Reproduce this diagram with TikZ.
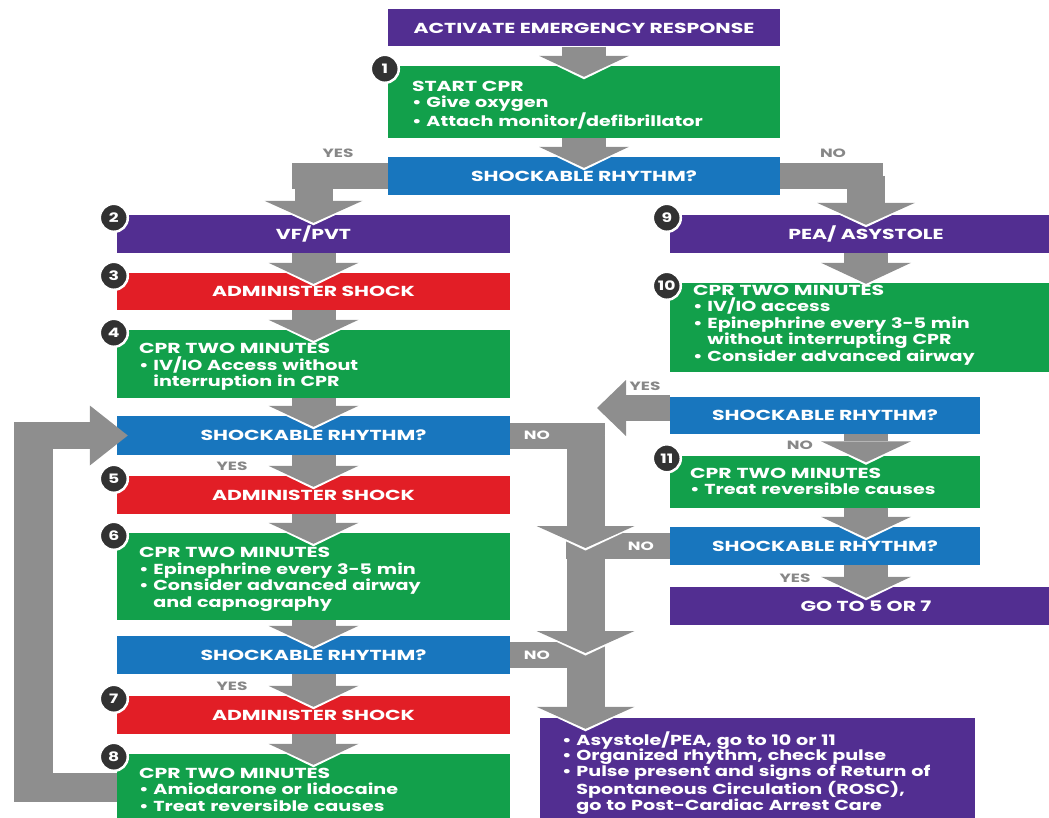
\documentclass[tikz,border=0pt]{standalone}
\usepackage{fontspec}
\setmainfont{Poppins}[FakeStretch=1.32]
\newfontfamily\capsfont{Poppins}[FakeStretch=1.41]
\usetikzlibrary{arrows.meta}

\definecolor{cprpurple}{RGB}{82,46,145}
\definecolor{cprgreen}{RGB}{18,160,75}
\definecolor{cprblue}{RGB}{24,118,190}
\definecolor{cprred}{RGB}{226,30,38}
\definecolor{arrowgray}{RGB}{142,142,142}
\definecolor{labelgray}{RGB}{135,135,135}
\definecolor{badgegray}{RGB}{50,50,50}

\newcommand{\itm}{\textbullet\ }
\newcommand{\hang}{\hphantom{\textbullet\ }}
\newcommand{\head}[1]{{\capsfont #1}}
\newcommand{\tp}{\rule{0pt}{16pt}}% pushes a list a little down

\begin{document}
\begin{tikzpicture}[x=1pt,y=-1pt,
		box/.style={
			rectangle,
			inner sep=0pt,
			text=white,
			font=\bfseries\fontsize{14.5}{16.5}\selectfont,
		},
		capsbox/.style={box, align=center, font=\capsfont\bfseries\fontsize{14.5}{16.5}\selectfont},
		purplebox/.style={capsbox, fill=cprpurple},
		redbox/.style={capsbox, fill=cprred},
		bluebox/.style={capsbox, fill=cprblue},
		greenbox/.style={box, fill=cprgreen, align=left},
		badge/.style={
			circle,
			fill=badgegray,
			draw=white,
			line width=2.5pt,
			minimum size=28pt,
			inner sep=0pt,
			text=white,
			font=\bfseries\fontsize{13}{13}\selectfont,
		},
		lab/.style={text=labelgray, font=\capsfont\bfseries\fontsize{12}{12}\selectfont},
		barlab/.style={text=white, font=\capsfont\bfseries\fontsize{12}{12}\selectfont},
		hbar/.style={draw=arrowgray, line width=26pt},
		vbar/.style={draw=arrowgray, line width=39pt},
		flow/.style={% straight block arrows
			draw=arrowgray,
			line width=44pt,
			shorten >=#1,
			-{Triangle[width=90pt,length=21pt,line width=0pt]},
			preaction={draw=white, line width=44pt, shorten >=#1-2.5pt,
				-{Triangle[width=96pt,length=23.5pt,line width=0pt]}},
		},
		flow/.default=-11pt,
		elbow/.style={% vertical leg of the bent arrows
			draw=arrowgray,
			line width=38pt,
			shorten >=#1,
			-{Triangle[width=98pt,length=22pt,line width=0pt]},
			preaction={draw=white, line width=38pt, shorten >=#1-2.5pt,
				-{Triangle[width=104pt,length=24.5pt,line width=0pt]}},
		},
		elbow/.default=0pt,
		sideflow/.style={
			draw=arrowgray,
			line width=26pt,
			-{Triangle[width=56pt,length=29pt,line width=0pt]},
		},
		]
		\useasboundingbox (0,0) rectangle (1049,818);
		
		% helper columns
		\coordinate (chan) at (585.5,0);
		\coordinate (chanL) at (566,0);
		\coordinate (chanR) at (605,0);
		\coordinate (rcol) at (866,0);
		\coordinate (yesL) at (292,0);
		\coordinate (noR) at (883,0);
		\coordinate (yesTip) at (597,408);
		\coordinate (loopbot) at (33.5,801.5);
		\coordinate (looptop) at (33.5,422);
		
		% top
		\node[purplebox, minimum width=392pt, minimum height=37pt] (act) at (584,28) {ACTIVATE EMERGENCY RESPONSE};
		\node[greenbox, minimum width=392pt, minimum height=72pt, text width=344pt] (start) at (584,102) {\tp\head{START CPR}\\ \itm Give oxygen\\ \itm Attach monitor/defibrillator};
		\node[bluebox, minimum width=392pt, minimum height=38pt] (chk1) at (584,176) {SHOCKABLE RHYTHM?};
		
		% shockable side
		\node[purplebox, minimum width=393pt, minimum height=38pt] (vf) at (313.5,234) {VF/PVT};
		\node[redbox, minimum width=393pt, minimum height=37pt] (shk3) at (313.5,291.5) {ADMINISTER SHOCK};
		\node[greenbox, minimum width=393pt, minimum height=68pt, text width=349pt] (cpr4) at (313.5,364) {\tp\head{CPR TWO MINUTES}\\ \itm IV/IO Access without\\ \hang interruption in CPR};
		\node[bluebox, minimum width=393pt, minimum height=39pt] (chk2) at (313.5,435.5) {SHOCKABLE RHYTHM?};
		\node[redbox, minimum width=393pt, minimum height=38pt] (shk5) at (313.5,495) {ADMINISTER SHOCK};
		\node[greenbox, minimum width=393pt, minimum height=87pt, text width=349pt] (cpr6) at (313.5,576.5) {\tp\head{CPR TWO MINUTES}\\ \itm Epinephrine every 3-5 min\\ \itm Consider advanced airway\\ \hang and capnography};
		\node[bluebox, minimum width=393pt, minimum height=38pt] (chk3) at (313.5,655) {SHOCKABLE RHYTHM?};
		\node[redbox, minimum width=393pt, minimum height=38pt] (shk7) at (313.5,715) {ADMINISTER SHOCK};
		\node[greenbox, minimum width=393pt, minimum height=66pt, text width=349pt] (cpr8) at (313.5,787) {\tp\head{CPR TWO MINUTES}\\ \itm Amiodarone or lidocaine\\ \itm Treat reversible causes};
		
		% non-shockable side
		\node[purplebox, minimum width=392pt, minimum height=38pt] (pea) at (866,234) {PEA/ ASYSTOLE};
		\node[greenbox, minimum width=392pt, minimum height=89pt, text width=346pt] (cpr10) at (866,327.5) {\head{CPR TWO MINUTES}\\ \itm IV/IO access\\ \itm Epinephrine every 3-5 min\\ \hang without interrupting CPR\\ \itm Consider advanced airway\rule[-9pt]{0pt}{0pt}};
		\node[bluebox, minimum width=310pt, minimum height=37pt] (chk4) at (825,415.5) {SHOCKABLE RHYTHM?};
		\node[greenbox, minimum width=310pt, minimum height=52pt, text width=270pt] (cpr11) at (825,481.5) {\head{CPR TWO MINUTES}\\ \itm Treat reversible causes};
		\node[bluebox, minimum width=310pt, minimum height=38pt] (chk5) at (825,546) {SHOCKABLE RHYTHM?};
		\node[purplebox, minimum width=392pt, minimum height=38pt] (go) at (866,606) {GO TO 5 OR 7};
		
		% outcome
		\node[purplebox, font=\bfseries\fontsize{14.5}{15.8}\selectfont, align=left, minimum width=435pt, minimum height=110pt, text width=391pt] (rosc) at (757.5,773) {\itm Asystole/PEA, go to 10 or 11\\ \itm Organized rhythm, check pulse\\ \itm Pulse present and signs of Return of\\ \hang Spontaneous Circulation (ROSC),\\ \hang go to Post-Cardiac Arrest Care};
		
		% main spine
		\draw[flow] (act) -- (start);
		\draw[flow] (start) -- (chk1);
		\draw[hbar] (chk1.west) -- (chk1.west -| yesL);
		\draw[elbow=-8pt] (chk1.west -| vf) -- (vf.north);
		\draw[hbar] (chk1.east) -- (chk1.east -| noR);
		\draw[elbow=-10pt] (chk1.east -| rcol) -- (pea.north);
		
		% shockable column
		\draw[flow] (vf) -- (shk3);
		\draw[flow] (shk3) -- (cpr4);
		\draw[flow] (cpr4) -- (chk2);
		\draw[flow] (chk2) -- (shk5);
		\draw[flow] (shk5) -- (cpr6);
		\draw[flow] (cpr6) -- (chk3);
		\draw[flow] (chk3) -- (shk7);
		\draw[flow] (shk7) -- (cpr8);
		
		% loop back
		\draw[vbar] (loopbot) -- (looptop);
		\draw[hbar, line width=29pt] (cpr8.west) -- (cpr8.west -| loopbot);
		\draw[sideflow, line width=27pt, shorten >=-11pt, -{Triangle[width=60pt,length=38pt,line width=0pt]}] (chk2.west -| loopbot) -- (chk2.west);
		
		% non-shockable column
		\draw[flow=-1pt] (pea) -- (cpr10);
		\draw[sideflow] (chk4.west |- yesTip) -- (yesTip);
		\draw[flow=-7pt] (chk4.south -| rcol) -- (cpr11.north -| rcol);
		\draw[flow] (cpr11.south -| rcol) -- (chk5.north -| rcol);
		\draw[flow] (chk5.south -| rcol) -- (go.north);
		
		% no branches
		\draw[hbar] (chk3.east) -- (chk3.east -| chanR);
		\draw[elbow=-11pt] (chk3.east -| chan) -- (rosc.north -| chan);
		\draw[hbar] (chk5.west) -- (chk5.west -| chanL);
		\draw[elbow=2pt] (chk5.west -| chan) -- (chk3.east -| chan);
		\draw[hbar] (chk2.east) -- (chk2.east -| chanR);
		\draw[elbow=-2pt] (chk2.east -| chan) -- (chk5.west -| chan);
		
		% step numbers
		\node[badge] (n1) at ([shift={(-3,3)}]start.north west) {1};
		\node[badge] (n2) at ([shift={(-3,3)}]vf.north west) {2};
		\node[badge] (n3) at ([shift={(-3,3)}]shk3.north west) {3};
		\node[badge] (n4) at ([shift={(-3,3)}]cpr4.north west) {4};
		\node[badge] (n5) at ([shift={(-3,3)}]shk5.north west) {5};
		\node[badge] (n6) at ([shift={(-3,3)}]cpr6.north west) {6};
		\node[badge] (n7) at ([shift={(-3,3)}]shk7.north west) {7};
		\node[badge] (n8) at ([shift={(-3,3)}]cpr8.north west) {8};
		\node[badge] (n9) at ([shift={(-3,3)}]pea.north west) {9};
		\node[badge] (n10) at ([shift={(-3,3)}]cpr10.north west) {10};
		\node[badge] (n11) at ([shift={(-3,3)}]cpr11.north west) {11};
		
		% answers
		\node[lab] (yes1) at (338,153) {YES};
		\node[lab] (no1) at (833,153) {NO};
		\node[lab] (yes2) at (232,466) {YES};
		\node[lab] (yes3) at (232,686) {YES};
		\node[lab] (yes4) at (645,386) {YES};
		\node[lab] (no4) at (800,445) {NO};
		\node[lab] (yes5) at (795,578) {YES};
		\node[barlab] (no2) at (537,435) {NO};
		\node[barlab] (no3) at (537,655) {NO};
		\node[barlab] (no5) at (641,546) {NO};
	\end{tikzpicture}
\end{document}
